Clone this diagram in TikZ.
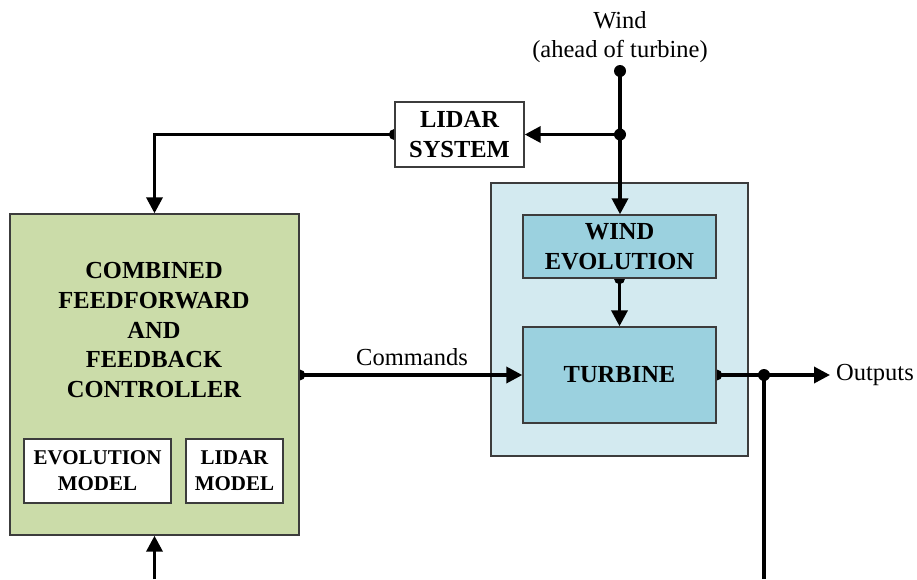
\documentclass[tikz,border=0pt]{standalone}
\usepackage{fontspec}
\setmainfont{Liberation Serif}
\usetikzlibrary{arrows.meta,calc}
\pgfdeclarelayer{back}
\pgfdeclarelayer{mid}
\pgfsetlayers{back,mid,main}
\definecolor{ctrlgreen}{RGB}{203,220,169}
\definecolor{plantbg}{RGB}{211,234,240}
\definecolor{plantbox}{RGB}{155,209,223}
\definecolor{edgegray}{RGB}{60,60,60}
\begin{document}
\begin{tikzpicture}[x=1pt,y=-1pt,
  txt/.style={font=\fontsize{24.5}{29.5}\selectfont, align=center, inner sep=0},
  box/.style={draw=edgegray, line width=1.4pt, inner sep=0, align=center,
              font=\fontsize{24.5}{29.5}\selectfont\bfseries},
  smallbox/.style={box, fill=white, font=\fontsize{21}{26}\selectfont\bfseries},
  conn/.style={line width=3.5pt, -{Triangle[length=16pt,width=16pt]}},
  wire/.style={line width=3.5pt},
  jdot/.style={fill=black}]
\useasboundingbox (0,0) rectangle (917,579);

% plant background box
\begin{pgfonlayer}{back}
\node[box, fill=plantbg, minimum width=257pt, minimum height=273pt] (plant) at (619.5,319.5) {};
\end{pgfonlayer}

% main boxes
\node[box, fill=ctrlgreen, minimum width=289pt, minimum height=321pt] (ctrl) at (154.5,374.5) {};
\node[txt, font=\fontsize{24.5}{29.8}\selectfont\bfseries] (ctrltext) at (154,330)
  {COMBINED\\FEEDFORWARD\\AND\\FEEDBACK\\CONTROLLER};
\node[smallbox, minimum width=147pt, minimum height=64pt] (evomodel) at (97.5,471) {EVOLUTION\\MODEL};
\node[smallbox, minimum width=97pt, minimum height=64pt] (lidmodel) at (234.5,471) {LIDAR\\MODEL};

\node[box, fill=white, minimum width=129pt, minimum height=65pt] (lidar) at (459.5,134.5) {LIDAR\\SYSTEM};
\node[box, fill=plantbox, minimum width=193pt, minimum height=63pt] (wevo) at (619.5,246.5) {WIND\\EVOLUTION};
\node[box, fill=plantbox, minimum width=193pt, minimum height=96pt] (turb) at (619.5,375) {TURBINE};

% texts
\node[txt] (windtxt) at (620,37) {Wind\\(ahead of turbine)};
\node[txt] (cmdtxt) at (412,357) {Commands};
\node[txt, anchor=west] (outtxt) at (836,375) {Outputs};

% coordinates
\coordinate (wtop) at (620,71);
\coordinate (j1) at (620,134.5);
\coordinate (j2) at (764,375);
\coordinate (outend) at (830,375);
\coordinate (bot1) at (154.5,579);
\coordinate (bot2) at (764,579);

% connectors
\begin{pgfonlayer}{mid}
\draw[conn] (wtop) -- (wtop |- wevo.north);
\draw[conn] (j1) -- (lidar.east |- j1);
\draw[conn] (lidar.west) -| (ctrl.north);
\draw[conn] (ctrl.east |- turb.west) -- (turb.west);
\draw[conn] (wevo.south) -- (turb.north);
\draw[conn] (turb.east) -- (outend);
\draw[wire] (j2) -- (bot2);
\draw[conn] (bot1) -- (ctrl.south);
\fill[jdot] (wtop) circle (6pt);
\fill[jdot] (j1) circle (6pt);
\fill[jdot] (j2) circle (6pt);
\fill[jdot] (lidar.west) circle (5.5pt);
\fill[jdot] (ctrl.east |- turb.west) circle (5.5pt);
\fill[jdot] (wevo.south) circle (5.5pt);
\fill[jdot] (turb.east) circle (5.5pt);
\end{pgfonlayer}
\end{tikzpicture}
\end{document}
